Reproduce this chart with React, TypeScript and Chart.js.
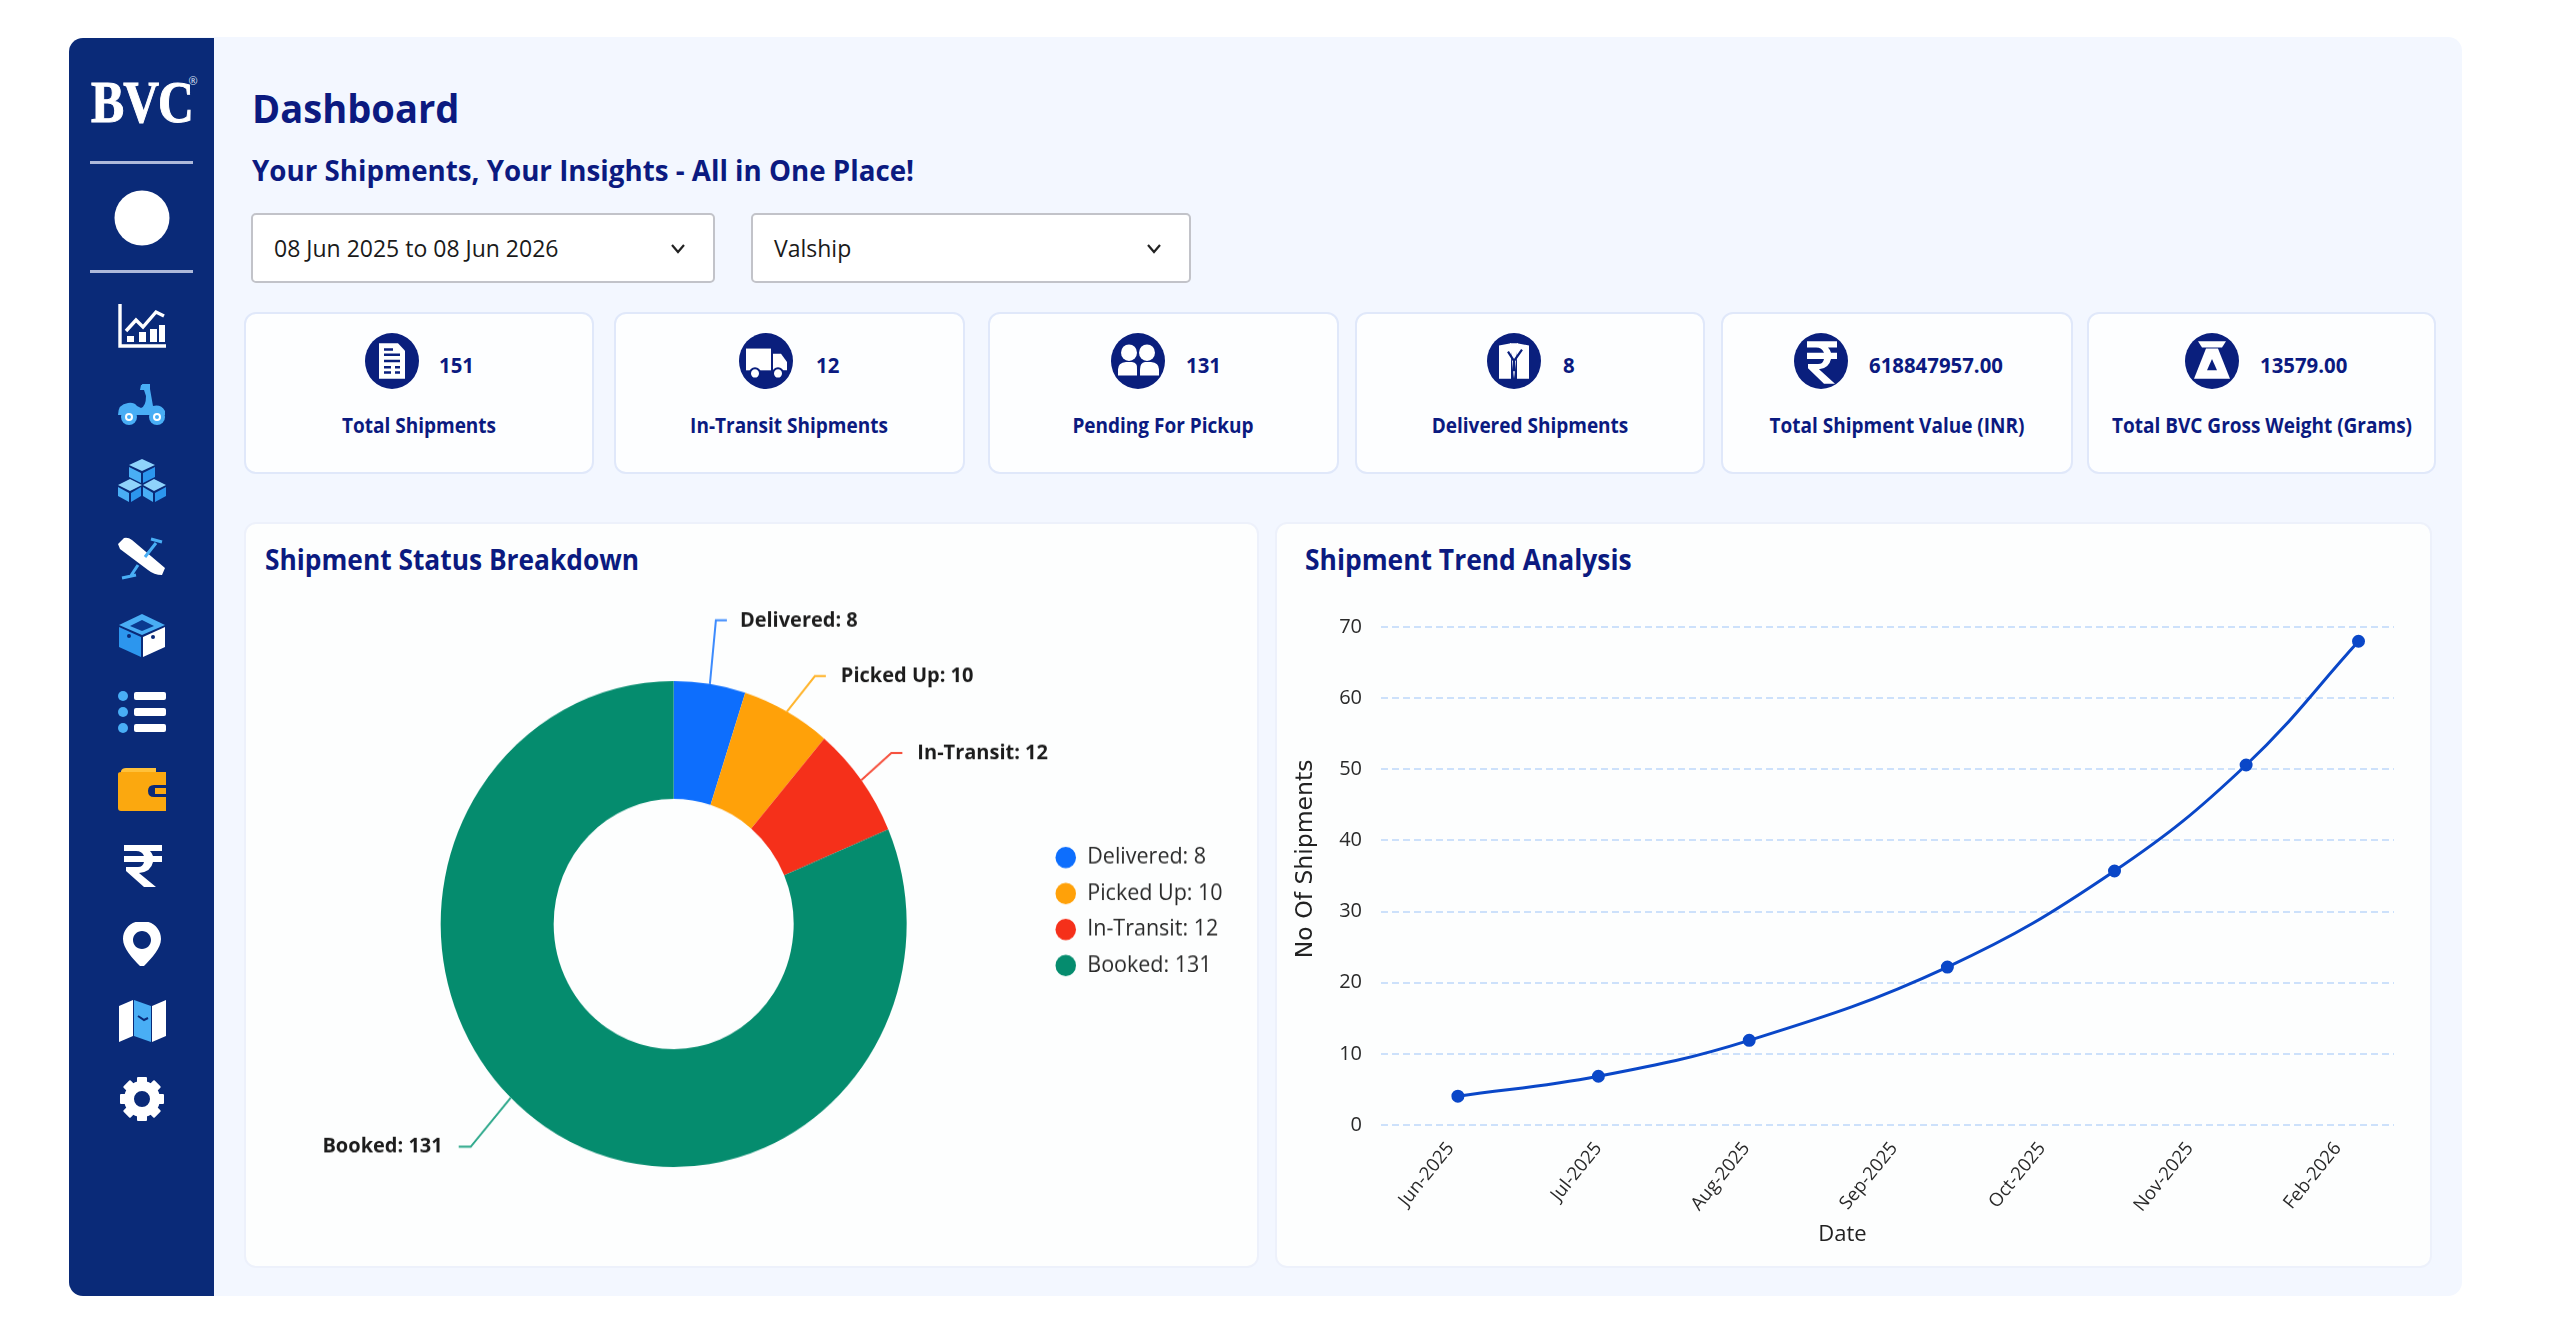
import React, { useEffect, useRef } from "react";
import { Chart, registerables } from "chart.js";

Chart.register(...registerables);

// ---------- data ----------
const statusNames = ["Delivered", "Picked Up", "In-Transit", "Booked"];
const statusValues = [8, 10, 12, 131];
const statusColors = ["#0d6efd", "#ffa109", "#f5301a", "#058c6e"];
const leaderColors = ["#3d8bfd", "#ffb52e", "#f6523f", "#2fa98c"];

const trendMonths = ["Jun-2025", "Jul-2025", "Aug-2025", "Sep-2025", "Oct-2025", "Nov-2025", "Feb-2026"];
const trendPositions = [0.05, 1.0, 2.02, 3.36, 4.49, 5.38, 6.14];
const trendValues = [4.05, 6.85, 11.9, 22.2, 35.7, 50.6, 68.0];

const kpiLabels = ["Total Shipments", "In-Transit Shipments", "Pending For Pickup", "Delivered Shipments", "Total Shipment Value (INR)", "Total BVC Gross Weight (Grams)"];
const kpiValues = ["151", "12", "131", "8", "618847957.00", "13579.00"];

const NAVY = "#0b1a80";
const FONT = "'Open Sans', 'Noto Sans', sans-serif";

// ---------- layout helpers ----------
const kpiBoxes = [[243.5, 594], [613.5, 964.5], [987.5, 1338.5], [1355, 1704.5], [1721, 2073], [2087, 2436]];
const kpiIconX = [392, 766, 1138, 1514, 1821, 2212];
const kpiValueX = [439, 816, 1186, 1563, 1869, 2260];
const navY = [326, 404, 480, 559, 635, 712, 789, 865, 944, 1020, 1099];

function T(p: any) {
  const { x, y, center, sx = 1, style, children } = p;
  return (
    <div
      style={{
        position: "absolute",
        left: x,
        top: y,
        transform: `${center ? "translate(-50%,-50%)" : "translateY(-50%)"} scaleX(${sx})`,
        transformOrigin: center ? "center center" : "left center",
        whiteSpace: "nowrap",
        fontFamily: FONT,
        ...style,
      }}
    >
      {children}
    </div>
  );
}

function Box(p: any) {
  const { l, t, r, b, style, children } = p;
  return <div style={{ position: "absolute", left: l, top: t, width: r - l, height: b - t, boxSizing: "border-box", ...style }}>{children}</div>;
}

function Ico(p: any) {
  const { cx, cy, w, h, vb, children } = p;
  return (
    <svg style={{ position: "absolute", left: cx - w / 2, top: cy - h / 2 }} width={w} height={h} viewBox={vb} preserveAspectRatio="none">
      {children}
    </svg>
  );
}

const BL = "#49aef5";
const WH = "#ffffff";

const navIcons = [
  <g key="a">
    <path d="M2 0V42H48" fill="none" stroke={WH} strokeWidth="3.4" />
    <path d="M8 27L18 16L25 23L38 8L46 12" fill="none" stroke={WH} strokeWidth="3.4" />
    <path d="M9 38V32H16V38ZM21 38V28H28V38ZM32 38V25H39V38ZM41 38V21H47V38Z" fill={WH} />
  </g>,
  <g key="b">
    <path d="M0 33Q0 22 10 21Q16 20 19 24L23 26Q28 24 28 14L26 8H22L23 3L30 2L32 7L35 24Q43 22 47 29V33H10Z" fill={BL} />
    <path d="M24 2H32V7H25Z" fill={BL} />
    <circle cx="11" cy="35" r="8" fill={BL} /><circle cx="11" cy="35" r="4" fill={WH} /><circle cx="11" cy="35" r="2" fill={BL} />
    <circle cx="39" cy="35" r="8" fill={BL} /><circle cx="39" cy="35" r="4" fill={WH} /><circle cx="39" cy="35" r="2" fill={BL} />
  </g>,
  <g key="c">
    <path d="M24 1L37 7L24 13L11 7Z" fill="#8fd3fb" /><path d="M11 9L23 15V25L11 19Z" fill={BL} /><path d="M37 9L25 15V25L37 19Z" fill="#2c96ee" />
    <path d="M12 21L24 27L12 33L0 27Z" fill="#8fd3fb" /><path d="M0 29L11 35V44L0 38Z" fill={BL} /><path d="M23 29L13 35V44L23 38Z" fill="#2c96ee" />
    <path d="M36 21L48 27L36 33L25 27Z" fill="#8fd3fb" /><path d="M25 29L35 35V44L25 38Z" fill={BL} /><path d="M48 29L37 35V44L48 38Z" fill="#2c96ee" />
  </g>,
  <g key="d">
    <path d="M0 7L6 1Q10 0 14 3L47 31L44 38Q36 38 30 33L2 12Z" fill={WH} />
    <path d="M27 20L38 6M33 2L44 5M20 28L12 40M4 41L18 38" stroke={BL} strokeWidth="3" fill="none" />
  </g>,
  <g key="e">
    <path d="M24 1L47 12L24 22L1 12Z" fill={BL} /><path d="M24 7L36 13L24 18L12 13Z" fill="#0a3a90" />
    <path d="M1 14L23 24V44L1 34Z" fill="#2c96ee" /><path d="M47 14L25 24V44L47 34Z" fill={WH} />
    <circle cx="11" cy="23" r="2" fill="#0a2a78" /><circle cx="35" cy="24" r="2" fill="#0a2a78" />
  </g>,
  <g key="f">
    <circle cx="5" cy="6" r="5" fill={BL} /><circle cx="5" cy="22" r="5" fill={BL} /><circle cx="5" cy="38" r="5" fill={BL} />
    <rect x="16" y="2" width="32" height="8" rx="2" fill={WH} /><rect x="16" y="18" width="32" height="8" rx="2" fill={WH} /><rect x="16" y="34" width="32" height="8" rx="2" fill={WH} />
  </g>,
  <g key="g">
    <path d="M3 4Q4 1 8 1H38V5H3Z" fill="#ffc13a" />
    <path d="M0 7Q0 5 3 5H48V18H36Q30 18 30 24Q30 30 36 30H48V44H3Q0 44 0 41Z" fill="#fba80f" />
    <path d="M37 21H48V27H37Z" fill="#fba80f" />
  </g>,
  <g key="h">
    <path d="M6 2H44V8H32Q34 10 35 13H44V19H35Q33 29 21 30L38 44H26L8 28V24H20Q25 24 26 19H6V13H26Q24 8 18 8H6Z" fill={WH} />
  </g>,
  <g key="i">
    <path fillRule="evenodd" d="M24 -1C35 -1 43 7 43 17C43 27 32 38 24 46C16 38 5 27 5 17C5 7 13 -1 24 -1ZM24 9C19 9 15 13 15 18C15 23 19 27 24 27C29 27 33 23 33 18C33 13 29 9 24 9Z" fill={WH} />
  </g>,
  <g key="j">
    <path d="M1 8L15 2V38L1 44Z" fill={WH} /><path d="M16 2L33 8V44L16 38Z" fill={BL} /><path d="M34 8L48 2V38L34 44Z" fill={WH} />
    <path d="M20 18L26 22L30 20" stroke="#0a2a78" strokeWidth="2" fill="none" />
  </g>,
  <g key="k">
    <g fill={WH}>
      {[0, 45, 90, 135, 180, 225, 270, 315].map((a) => (
        <rect key={a} x="19" y="0" width="10" height="12" rx="1" transform={`rotate(${a} 24 22)`} />
      ))}
    </g>
    <circle cx="24" cy="22" r="13" fill="none" stroke={WH} strokeWidth="10" />
  </g>,
];

const kpiGlyphs = [
  <g key="a" fill={WH}>
    <path d="M-13 -17H6L13 -10V17H-13Z" /><path d="M-8 -6H8M-8 0H8M-8 6H-1M3 6H8M-8 11H-1M3 11H8M-8 -11H1" stroke="#0a1f7d" strokeWidth="2.4" />
  </g>,
  <g key="b" fill={WH}>
    <path d="M-20 -12H5V9H-20Z" /><path d="M7 -7H15L21 1V9H7Z" /><circle cx="-11" cy="12" r="5" stroke="#0a1f7d" strokeWidth="2" /><circle cx="12" cy="12" r="5" stroke="#0a1f7d" strokeWidth="2" />
  </g>,
  <g key="c" fill={WH}>
    <circle cx="-9" cy="-8" r="8" /><circle cx="9" cy="-8" r="8" />
    <path d="M-20 14V8Q-20 2 -12 1H-6Q0 2 -1 8V14Z" /><path d="M2 14V8Q2 2 7 1H13Q21 2 21 8V14Z" />
  </g>,
  <g key="d">
    <path d="M-15 -15L-3 -17V17H-15Z M3 -17L15 -15V17H3Z" fill={WH} /><path d="M-4 -17H4L2 0L0 17L-2 0Z" fill={WH} />
    <path d="M-6 -9L0 0L8 -11M0 0V10" stroke="#0a1f7d" strokeWidth="2.2" fill="none" />
  </g>,
  <g key="e">
    <path d="M-14 -19H16V-13H7Q9 -11 10 -8H16V-2H10Q8 7 -2 8L14 22H3L-13 7V3H-3Q2 3 3 -2H-14V-8H3Q1 -13 -5 -13H-14Z" fill={WH} />
  </g>,
  <g key="f">
    <path d="M-14 -19H14L10 -13H-10Z" fill={WH} /><path d="M-6 -12H6L18 17H-18Z" fill={WH} />
    <path d="M0 -2L5 9H-5Z" fill="#0a1f7d" />
  </g>,
];

// ---------- charts ----------
const donutStretch = 243 / 233;
const leaderSpec = [
  { frac: 0.5, dx: 6, dy: -61, run: 11, gap: 13 },
  { frac: 0.5, dx: 28, dy: -34, run: 11, gap: 15 },
  { frac: 0.5, dx: 30, dy: -26, run: 11, gap: 15 },
  { frac: 0.537, dx: -40, dy: 47, run: -12, gap: -16 },
];

const leaderPlugin = {
  id: "leaders",
  afterLayout(chart: any) {
    const lg = chart.legend;
    const w = lg.right - lg.left;
    lg.left = 742;
    lg.right = 742 + w;
    lg.top -= 12;
    lg.bottom -= 12;
  },
  afterDatasetsDraw(chart: any) {
    const { ctx } = chart;
    const arcs = chart.getDatasetMeta(0).data;
    ctx.save();
    arcs.forEach((arc: any, i: number) => {
      const s = leaderSpec[i];
      const { x, y, startAngle, endAngle, outerRadius } = arc.getProps(["x", "y", "startAngle", "endAngle", "outerRadius"], true);
      const a = startAngle + s.frac * (endAngle - startAngle);
      const px = x + outerRadius * Math.cos(a);
      const py = y + outerRadius * Math.sin(a);
      const ex = px + s.dx;
      const ey = py + s.dy;
      ctx.strokeStyle = leaderColors[i];
      ctx.lineWidth = 2;
      ctx.beginPath();
      ctx.moveTo(px, py);
      ctx.lineTo(ex, ey);
      ctx.lineTo(ex + s.run, ey);
      ctx.stroke();
      ctx.fillStyle = "#1c1c1c";
      ctx.font = "700 20px 'Open Sans', 'Noto Sans', sans-serif";
      ctx.textBaseline = "middle";
      ctx.textAlign = s.run > 0 ? "left" : "right";
      ctx.fillText(`${statusNames[i]}: ${statusValues[i]}`, ex + s.run + s.gap, ey);
    });
    ctx.restore();
  },
};

function Donut() {
  const ref = useRef<HTMLCanvasElement>(null);
  useEffect(() => {
    const chart = new Chart(ref.current as any, {
      type: "doughnut",
      data: {
        labels: statusNames.map((n, i) => `${n}: ${statusValues[i]}`),
        datasets: [{ data: statusValues, backgroundColor: statusColors, borderWidth: 0 }],
      },
      options: {
        responsive: false,
        animation: false,
        cutout: "51.5%",
        layout: { padding: { top: 70, bottom: 20, left: 0, right: 20 } },
        plugins: {
          tooltip: { enabled: false },
          legend: {
            position: "right",
            labels: {
              usePointStyle: true,
              pointStyle: "circle",
              boxWidth: 22,
              boxHeight: 14.5,
              padding: 13,
              color: "#2a2a2a",
              font: { family: "'Open Sans', 'Noto Sans', sans-serif", size: 21.5 },
            },
          },
        },
      },
      plugins: [leaderPlugin],
    } as any);
    return () => chart.destroy();
  }, []);
  return (
    <div style={{ position: "absolute", left: 300, top: 608, transformOrigin: "top left", transform: `scaleY(${donutStretch})` }}>
      <canvas ref={ref} width={958} height={556} />
    </div>
  );
}

const axisTitlePlugin = {
  id: "axisTitles",
  afterDraw(chart: any) {
    const { ctx, scales } = chart;
    ctx.save();
    ctx.fillStyle = "#222";
    ctx.textAlign = "center";
    ctx.textBaseline = "middle";
    ctx.font = "22px 'Open Sans', 'Noto Sans', sans-serif";
    ctx.fillText("Date", scales.x.getPixelForValue(2.65), scales.x.bottom - 20);
    ctx.translate(scales.y.left + 16, scales.y.getPixelForValue(37.4));
    ctx.rotate(-Math.PI / 2);
    ctx.font = "23.5px 'DejaVu Sans', sans-serif";
    ctx.fillText("No Of Shipments", 0, 0);
    ctx.restore();
  },
};

function Trend() {
  const ref = useRef<HTMLCanvasElement>(null);
  useEffect(() => {
    const chart = new Chart(ref.current as any, {
      type: "line",
      data: {
        datasets: [
          {
            data: trendPositions.map((x, i) => ({ x, y: trendValues[i] })),
            borderColor: "#0a47c8",
            backgroundColor: "#0a47c8",
            borderWidth: 3,
            pointRadius: 5,
            tension: 0.4,
            fill: false,
          },
        ],
      },
      options: {
        responsive: false,
        animation: false,
        layout: { padding: { top: 16, right: 16, left: 0, bottom: 0 } },
        plugins: { legend: { display: false }, tooltip: { enabled: false } },
        scales: {
          x: {
            type: "linear",
            min: -0.47,
            max: 6.38,
            grid: { display: false },
            border: { display: false },
            afterFit: (s: any) => { s.height = 130; },
            afterBuildTicks: (s: any) => { s.ticks = trendMonths.map((_, i) => ({ value: i })); },
            ticks: {
              callback: (v: any) => trendMonths[v],
              autoSkip: false,
              minRotation: 51,
              maxRotation: 51,
              padding: 5,
              color: "#2a2a2a",
              font: { family: "'Open Sans', 'Noto Sans', sans-serif", size: 18.5 },
            },
          },
          y: {
            min: 0,
            max: 70,
            grid: { color: "#cde1fb", lineWidth: 2, drawTicks: false },
            border: { display: false, dash: [7, 4] },
            afterFit: (s: any) => { s.width = 91; },
            ticks: {
              stepSize: 10,
              padding: 19,
              color: "#2a2a2a",
              font: { family: "'Open Sans', 'Noto Sans', sans-serif", size: 20, weight: "500" },
            },
          },
        },
      },
      plugins: [axisTitlePlugin],
    } as any);
    return () => chart.destroy();
  }, []);
  return (
    <div style={{ position: "absolute", left: 1290, top: 596 }}>
      <canvas ref={ref} width={1120} height={659} />
    </div>
  );
}

function Select(p: any) {
  return (
    <Box l={p.l} t={213} r={p.r} b={283} style={{ background: "#fff", border: "2px solid #c2c3c9", borderRadius: 5 }}>
      <T x={21} y={33} style={{ fontSize: 23, color: "#1a1a1a" }}>{p.text}</T>
      <svg style={{ position: "absolute", left: p.r - p.l - 47, top: 29 }} width="16" height="10" viewBox="0 0 16 10">
        <path d="M2 1L8 8L14 1" fill="none" stroke="#222" strokeWidth="2.2" />
      </svg>
    </Box>
  );
}

export default function App() {
  return (
    <div style={{ position: "absolute", left: 0, top: 0, width: 2560, height: 1329, background: "#fff", overflow: "hidden" }}>
      <Box l={120} t={37} r={2462} b={1296} style={{ background: "#f3f7ff", borderRadius: 14 }} />
      <Box l={69} t={38} r={214} b={1296} style={{ background: "#0a2a78", borderRadius: "14px 0 0 14px" }} />

      <T x={142} y={103} center style={{ color: "#fff", fontFamily: "'Liberation Serif', serif", fontWeight: 700, fontSize: 54, letterSpacing: -1, WebkitTextStroke: "1px #fff" }}>
        <span style={{ display: "inline-block", transform: "scale(0.92,1.08)" }}>BVC</span>
      </T>
      <T x={193} y={80} center style={{ color: "#dfe6f6", fontSize: 11 }}>®</T>
      <Box l={90} t={161} r={193} b={164} style={{ background: "#aeb9da" }} />
      <Box l={90} t={270} r={193} b={273} style={{ background: "#aeb9da" }} />
      <Ico cx={142} cy={218} w={56} h={56} vb="0 0 56 56"><circle cx="28" cy="28" r="27.5" fill="#fff" /></Ico>
      {navIcons.map((g, i) => (
        <Ico key={i} cx={142} cy={navY[i]} w={48} h={44} vb="0 0 48 44">{g}</Ico>
      ))}

      <T x={252} y={107} sx={0.977} style={{ color: NAVY, fontWeight: 700, fontSize: 39 }}>Dashboard</T>
      <T x={252} y={169.5} sx={0.99} style={{ color: NAVY, fontWeight: 700, fontSize: 28 }}>Your Shipments, Your Insights - All in One Place!</T>

      <Select l={251} r={715} text="08 Jun 2025 to 08 Jun 2026" />
      <Select l={751} r={1191} text="Valship" />

      {kpiBoxes.map(([l, r], i) => (
        <React.Fragment key={i}>
          <Box l={l} t={312} r={r} b={474} style={{ background: "#fdfeff", border: "2px solid #e0e8fa", borderRadius: 12 }} />
          <Ico cx={kpiIconX[i]} cy={361} w={54} h={56} vb="-27 -27 54 54">
            <circle cx="0" cy="0" r="27" fill="#0a1f7d" />
            {kpiGlyphs[i]}
          </Ico>
          <T x={kpiValueX[i]} y={365} sx={0.97} style={{ color: NAVY, fontWeight: 700, fontSize: 21 }}>{kpiValues[i]}</T>
          <T x={(l + r) / 2} y={425} center sx={0.905} style={{ color: NAVY, fontWeight: 700, fontSize: 21 }}>{kpiLabels[i]}</T>
        </React.Fragment>
      ))}

      <Box l={244} t={522} r={1259} b={1268} style={{ background: "#fdfefe", border: "2px solid #edf1fb", borderRadius: 12 }} />
      <Box l={1275} t={522} r={2432} b={1268} style={{ background: "#fdfefe", border: "2px solid #edf1fb", borderRadius: 12 }} />
      <T x={265} y={559} sx={0.94} style={{ color: NAVY, fontWeight: 700, fontSize: 28 }}>Shipment Status Breakdown</T>
      <T x={1305} y={559} sx={0.943} style={{ color: NAVY, fontWeight: 700, fontSize: 28 }}>Shipment Trend Analysis</T>

      <Donut />
      <Trend />
    </div>
  );
}
